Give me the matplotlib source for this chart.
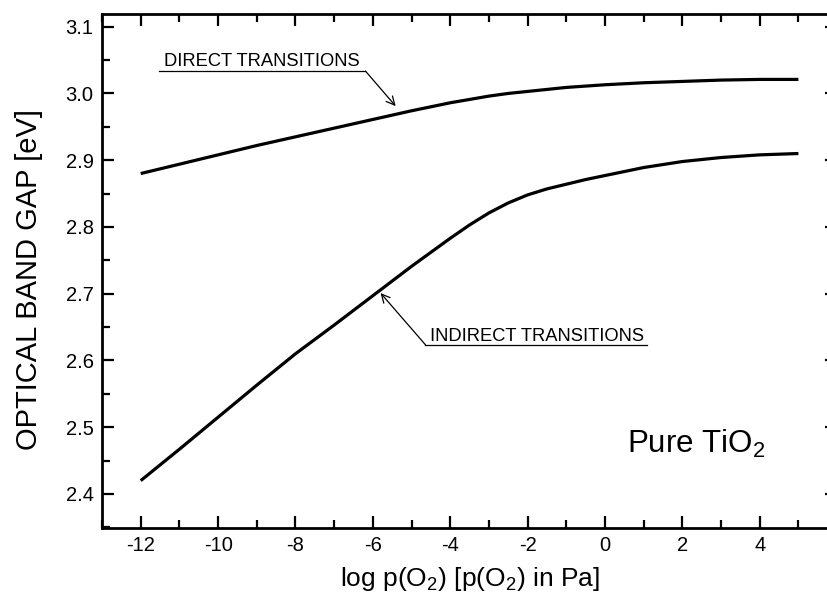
import matplotlib
matplotlib.use("Agg")
import matplotlib.pyplot as plt
from matplotlib.ticker import MultipleLocator

plt.rcParams['font.family'] = ['Liberation Sans', 'DejaVu Sans']
plt.rcParams['mathtext.default'] = 'regular'
plt.rcParams['axes.unicode_minus'] = False

# log p(O2) values
log_p = [-12, -11, -10, -9, -8, -7, -6, -5, -4, -3.5, -3, -2.5, -2, -1.5, -1,
         -0.5, 0, 1, 2, 3, 4, 5]

# optical band gap [eV]
direct_gap = [2.880, 2.894, 2.908, 2.922, 2.935, 2.948, 2.961, 2.974, 2.986,
              2.991, 2.996, 3.000, 3.003, 3.006, 3.009, 3.011, 3.013, 3.016,
              3.018, 3.020, 3.021, 3.021]
indirect_gap = [2.420, 2.467, 2.515, 2.563, 2.610, 2.653, 2.697, 2.741, 2.783,
                2.803, 2.821, 2.836, 2.848, 2.857, 2.864, 2.871, 2.877, 2.889,
                2.898, 2.904, 2.908, 2.910]

fig = plt.figure(figsize=(8.28, 5.98), dpi=100)
ax = fig.add_axes([0.1232, 0.117, 0.8878, 0.8596])

ax.plot(log_p, direct_gap, color='black', lw=2.3, solid_capstyle='butt',
        solid_joinstyle='round')
ax.plot(log_p, indirect_gap, color='black', lw=2.3, solid_capstyle='butt',
        solid_joinstyle='round')

ax.set_xlim(-13, 6)
ax.set_ylim(2.349, 3.119)

ax.xaxis.set_major_locator(MultipleLocator(2))
ax.xaxis.set_minor_locator(MultipleLocator(1))
ax.yaxis.set_major_locator(MultipleLocator(0.1))
ax.yaxis.set_minor_locator(MultipleLocator(0.05))
ax.yaxis.set_major_formatter(plt.FormatStrFormatter('%.1f'))
ax.set_xticks([-12, -10, -8, -6, -4, -2, 0, 2, 4])

ax.tick_params(which='both', direction='in', top=True, right=True, width=1.6,
               labelsize=14.5, pad=6)
ax.tick_params(which='major', length=8.5)
ax.tick_params(which='minor', length=5.5)
for sp in ax.spines.values():
    sp.set_linewidth(2)

ax.set_xlabel('log p(O$_2$) [p(O$_2$) in Pa]', fontsize=19, labelpad=7)
ax.set_ylabel('OPTICAL BAND GAP [eV]', fontsize=21)
ax.yaxis.set_label_coords(-0.080, 0.484)

# annotations
ax.text(-11.40, 3.0415, 'DIRECT TRANSITIONS', fontsize=13.2, va='baseline')
ax.plot([-11.53, -6.19], [3.0335, 3.0335], color='black', lw=0.9)
ax.annotate('', xy=(-5.41, 2.981), xytext=(-6.19, 3.0335),
            arrowprops=dict(arrowstyle='->', color='black', lw=0.9,
                            mutation_scale=15, shrinkA=0, shrinkB=0))

ax.text(-4.51, 2.6285, 'INDIRECT TRANSITIONS', fontsize=13.2, va='baseline')
ax.plot([-4.64, 1.09], [2.6235, 2.6235], color='black', lw=0.9)
ax.annotate('', xy=(-5.80, 2.701), xytext=(-4.64, 2.6235),
            arrowprops=dict(arrowstyle='->', color='black', lw=0.9,
                            mutation_scale=15, shrinkA=0, shrinkB=0))

ax.text(0.57, 2.461, 'Pure TiO$_2$', fontsize=22.5, va='baseline')

fig.savefig('out.png', dpi=100)
